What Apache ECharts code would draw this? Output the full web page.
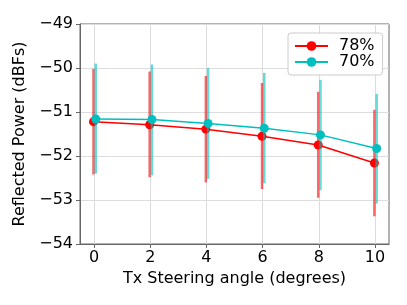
<!DOCTYPE html>
<html>
<head>
<meta charset="utf-8">
<script src="https://cdn.jsdelivr.net/npm/echarts@6/dist/echarts.min.js"></script>
<style>html,body{margin:0;padding:0;background:#fff}#c{width:407px;height:305px}</style>
</head>
<body>
<div id="c"></div>
<script>
var angles = [0, 2, 4, 6, 8, 10];
var xTicks = [0, 2, 4, 6, 8, 10];
var yTicks = [-54, -53, -52, -51, -50, -49];
var mean78 = [-51.22, -51.29, -51.39, -51.55, -51.75, -52.16];
var low78 = [-52.42, -52.48, -52.60, -52.75, -52.95, -53.37];
var high78 = [-50.02, -50.08, -50.18, -50.34, -50.54, -50.95];
var mean70 = [-51.16, -51.17, -51.26, -51.37, -51.52, -51.83];
var low70 = [-52.40, -52.44, -52.52, -52.62, -52.78, -53.08];
var high70 = [-49.90, -49.92, -50.00, -50.11, -50.27, -50.59];

var FONT = 'DejaVu Sans';
var RED = '#ff0000', CYAN = '#00bfbf';
var OFF78 = -0.02, OFF70 = 0.06;

function lineData(means, off) {
  return angles.map(function (a, i) { return [a + off, means[i]]; });
}
function errData(lows, highs, off) {
  return angles.map(function (a, i) { return [a + off, lows[i], highs[i]]; });
}
function errSeries(name, lows, highs, off, color, z) {
  return {
    type: 'custom', name: name + '_err', z: z, silent: true,
    data: errData(lows, highs, off),
    encode: { x: 0, y: [1, 2] },
    renderItem: function (params, api) {
      var p1 = api.coord([api.value(0), api.value(1)]);
      var p2 = api.coord([api.value(0), api.value(2)]);
      return { type: 'line', shape: { x1: p1[0], y1: p1[1], x2: p2[0], y2: p2[1] },
        style: { stroke: color, lineWidth: 2.5, opacity: 0.6 } };
    }
  };
}
function lineSeries(name, means, off, color, z) {
  return {
    type: 'line', name: name, z: z,
    data: lineData(means, off),
    symbol: 'circle', symbolSize: 9,
    lineStyle: { color: color, width: 1.5 },
    itemStyle: { color: color },
    emphasis: { disabled: true }
  };
}
function fmtMinus(v) { return String(v).replace('-', '\u2212'); }

var chart = echarts.init(document.getElementById('c'));
chart.setOption({
  animation: false,
  grid: { left: 80, top: 24, right: 18, bottom: 61, show: true, borderColor: '#666', borderWidth: 1, backgroundColor: 'transparent' },
  legend: {
    data: ['78%', '70%'], orient: 'vertical', left: 288, top: 33,
    padding: [5, 8, 5, 6], itemGap: 0, itemWidth: 33, itemHeight: 12,
    backgroundColor: '#fff', borderColor: '#cccccc', borderWidth: 1, borderRadius: 3,
    textStyle: { fontFamily: FONT, fontSize: 16, color: '#000', padding: [0, 0, 0, 6] }
  },
  xAxis: {
    type: 'value', min: -0.5, max: 10.5,
    name: 'Tx Steering angle (degrees)', nameLocation: 'middle', nameGap: 22,
    nameTextStyle: { fontFamily: FONT, fontSize: 16, color: '#000' },
    axisLine: { show: true, onZero: false, lineStyle: { color: '#666' } },
    axisTick: { show: true, length: 4, lineStyle: { color: '#666' }, customValues: xTicks },
    axisLabel: { fontFamily: FONT, fontSize: 16, color: '#000', margin: 6, customValues: xTicks },
    splitLine: { show: true, lineStyle: { color: '#dddddd', width: 1 } }
  },
  yAxis: {
    type: 'value', min: yTicks[0], max: yTicks[yTicks.length - 1], interval: 1,
    name: 'Reflected Power (dBFs)', nameLocation: 'middle', nameGap: 41, nameRotate: 90,
    nameTextStyle: { fontFamily: FONT, fontSize: 16, color: '#000' },
    axisLine: { show: true, onZero: false, lineStyle: { color: '#666' } },
    axisTick: { show: true, length: 4, lineStyle: { color: '#666' } },
    axisLabel: { fontFamily: FONT, fontSize: 16, color: '#000', margin: 7, formatter: fmtMinus },
    splitLine: { show: true, lineStyle: { color: '#dddddd', width: 1 } }
  },
  series: [
    errSeries('78%', low78, high78, OFF78, RED, 2),
    lineSeries('78%', mean78, OFF78, RED, 3),
    errSeries('70%', low70, high70, OFF70, CYAN, 4),
    lineSeries('70%', mean70, OFF70, CYAN, 5)
  ]
});
</script>
</body>
</html>
